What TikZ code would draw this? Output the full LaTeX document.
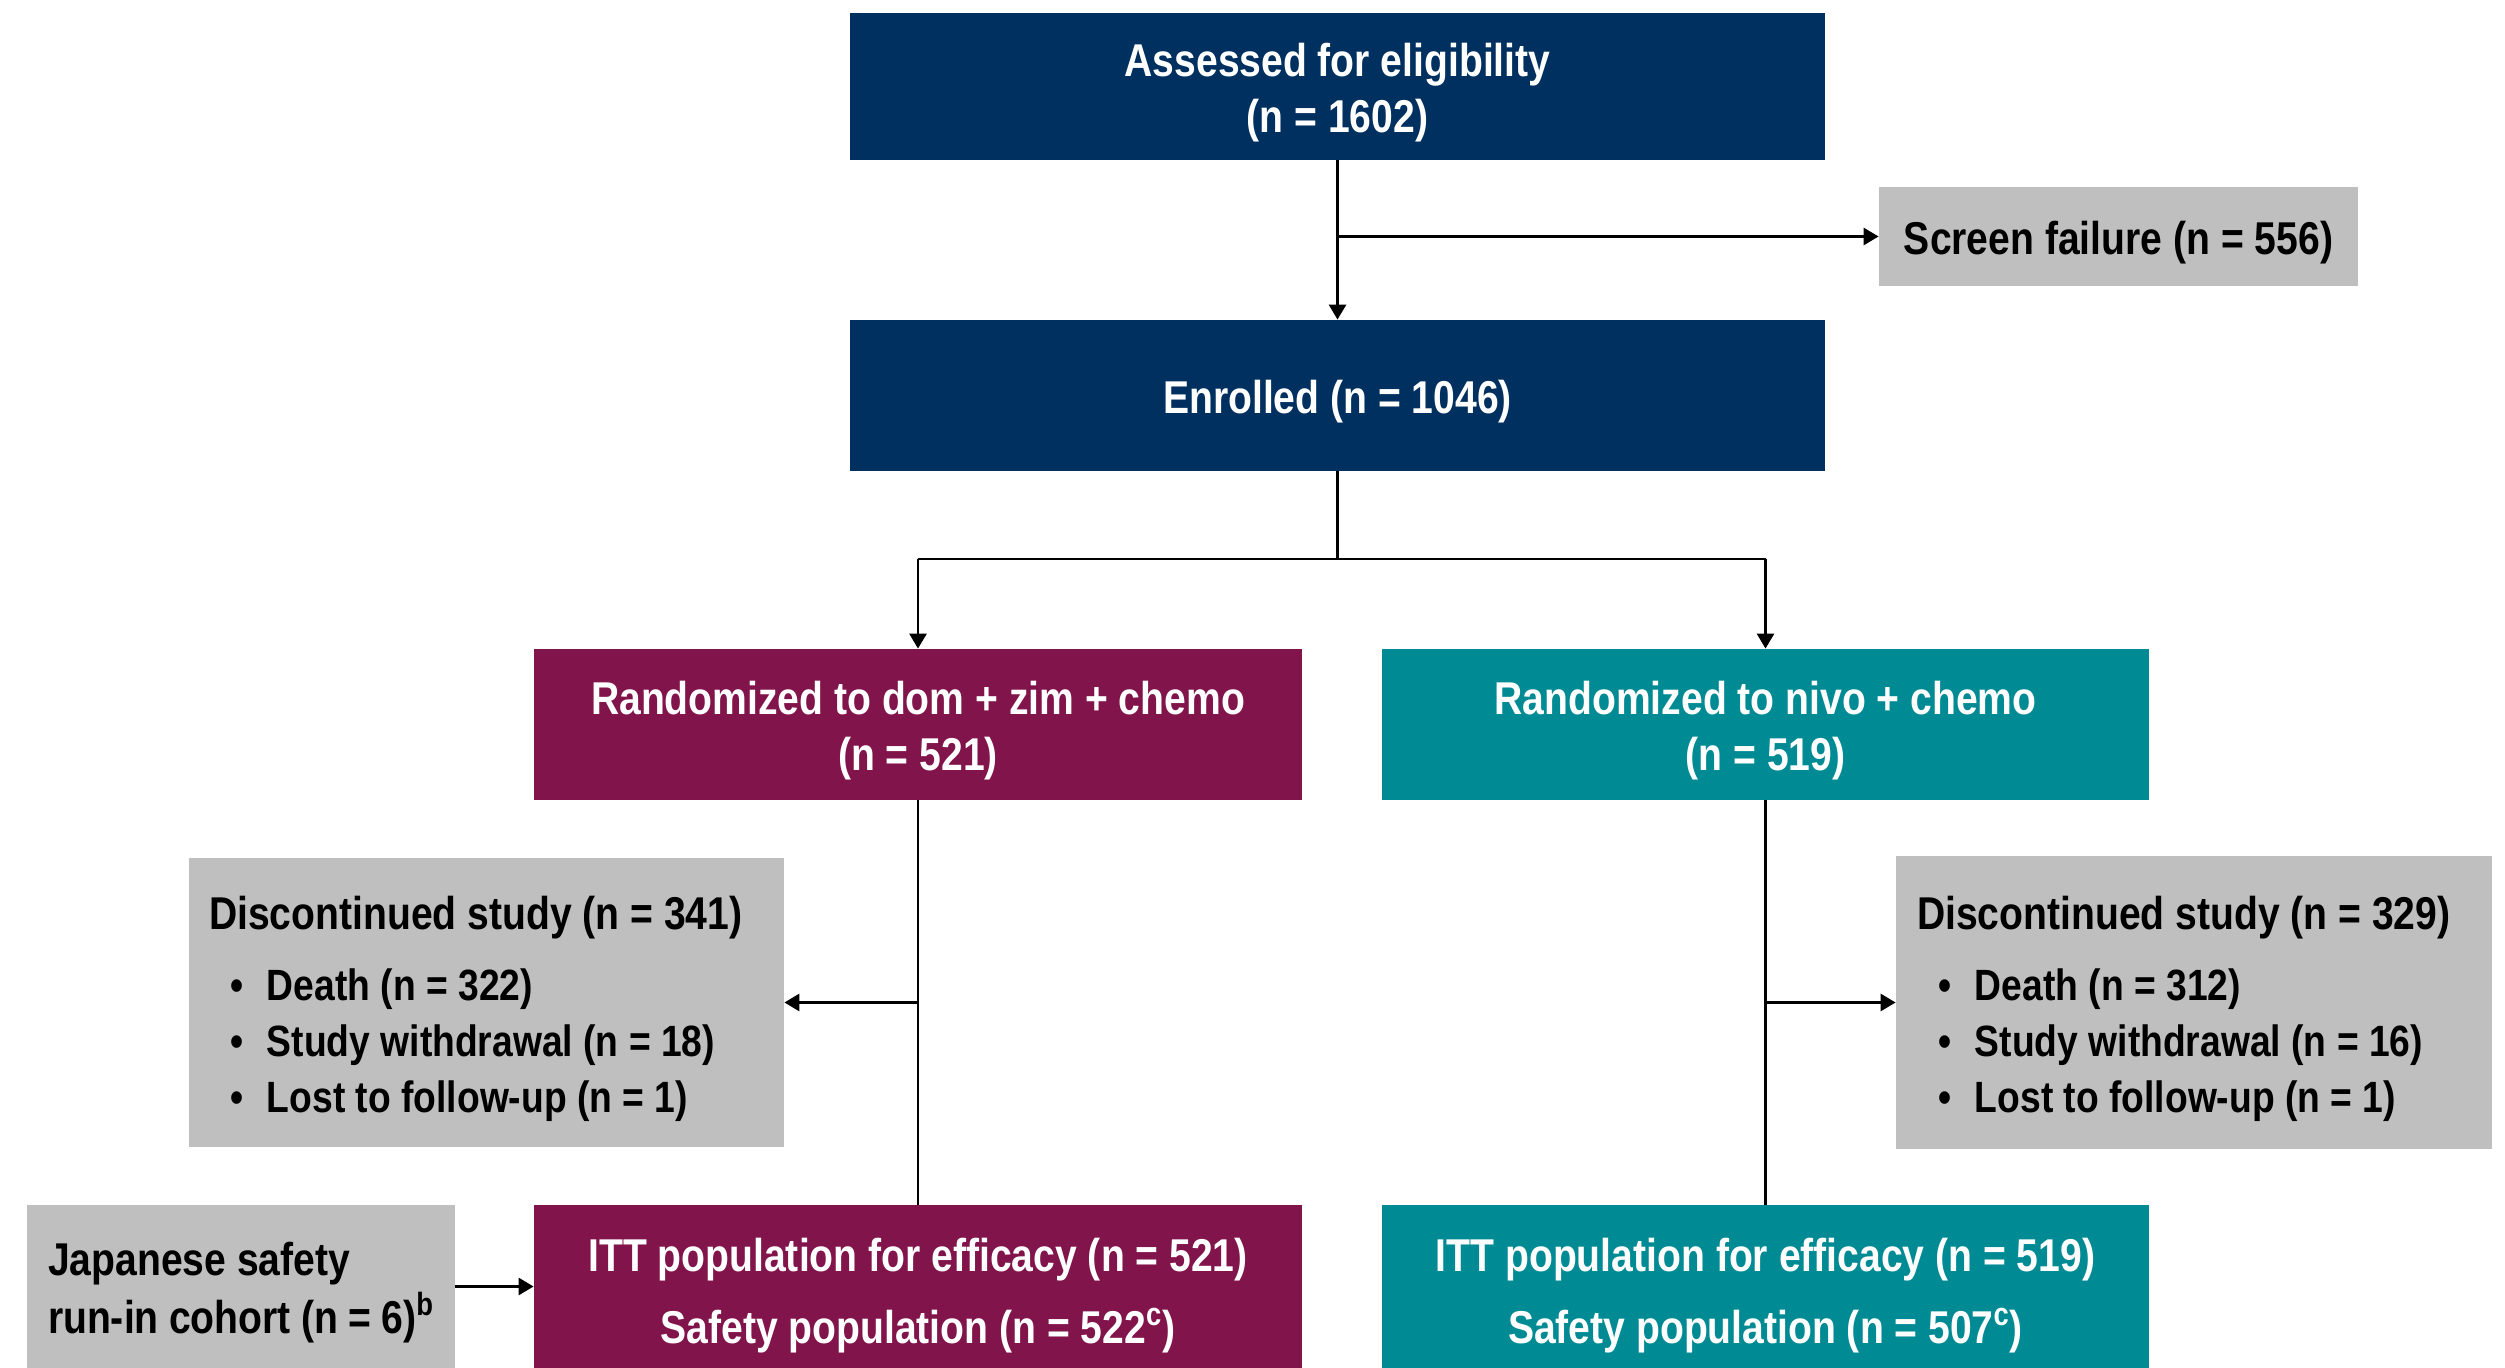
\documentclass[tikz,border=0pt]{standalone}
\usepackage{fontspec}
\setmainfont{Liberation Sans}[FakeStretch=0.85]
\usetikzlibrary{arrows.meta}
\definecolor{navy}{HTML}{00305F}
\definecolor{maroon}{HTML}{82144C}
\definecolor{teal}{HTML}{008B94}
\definecolor{grey}{HTML}{BFBFBF}
% lowered block of lines; reported size unchanged so nodes stay centred
\newcommand{\dn}[2][c]{\raisebox{-3.5pt}[\height][\depth]{\begin{tabular}{@{}#1@{}}#2\end{tabular}}}
\newcommand{\bul}{\fontsize{21.9}{28}\selectfont\hspace*{10.5pt}\makebox[18.5pt][l]{•}}
\begin{document}
\begin{tikzpicture}[x=0.5pt,y=-0.5pt,
  txt/.style={font=\fontsize{23}{28}\selectfont\bfseries, inner sep=0pt},
  navybox/.style={txt, fill=navy, text=white},
  maroonbox/.style={txt, fill=maroon, text=white},
  tealbox/.style={txt, fill=teal, text=white},
  greybox/.style={txt, fill=grey, text=black},
  conn/.style={line width=1.4pt, draw=black},
  arr/.style={conn, -{Triangle[length=7.5pt,width=8.5pt]}}
]
\useasboundingbox (0,0) rectangle (2505,1368);
\fill[white] (0,0) rectangle (2505,1368);

\node[navybox, minimum width=487.5pt, minimum height=73.5pt] (assess) at (1337.5,86.5)
  {\dn{Assessed for eligibility\\(n = 1602)}};
\node[greybox, minimum width=239.5pt, minimum height=49.5pt] (screen) at (2118.5,236.5)
  {\dn{Screen failure (n = 556)}};
\node[navybox, minimum width=487.5pt, minimum height=75.5pt] (enrolled) at (1337.5,395.5)
  {\dn{Enrolled (n = 1046)}};

\node[maroonbox, minimum width=384pt, minimum height=75.5pt] (randL) at (918,724.5)
  {\dn{Randomized to dom + zim + chemo\\(n = 521)}};
\node[tealbox, minimum width=383.5pt, minimum height=75.5pt] (randR) at (1765.5,724.5)
  {\dn{Randomized to nivo + chemo\\(n = 519)}};

\node[greybox, minimum width=297.5pt, minimum height=144.5pt] (discL) at (486.5,1002.5)
  {\dn[p{277.5pt}]{Discontinued study (n = 341)\\[7.5pt]
   \bul Death (n = 322)\\
   \bul Study withdrawal (n = 18)\\
   \bul Lost to follow-up (n = 1)}};
\node[greybox, minimum width=298pt, minimum height=146.5pt] (discR) at (2194,1002.5)
  {\dn[p{277pt}]{Discontinued study (n = 329)\\[7.5pt]
   \bul Death (n = 312)\\
   \bul Study withdrawal (n = 16)\\
   \bul Lost to follow-up (n = 1)}};

\node[greybox, minimum width=214pt, minimum height=81.5pt] (jap) at (241,1286.5)
  {\dn[p{193pt}]{Japanese safety\\run-in cohort (n = 6)\textsuperscript{b}}};
\node[maroonbox, font=\fontsize{23}{36}\selectfont\bfseries, minimum width=384pt, minimum height=81.5pt] (ittL) at (918,1286.5)
  {\dn{ITT population for efficacy (n = 521)\\Safety population (n = 522\textsuperscript{c})}};
\node[tealbox, font=\fontsize{23}{36}\selectfont\bfseries, minimum width=383.5pt, minimum height=81.5pt] (ittR) at (1765.5,1286.5)
  {\dn{ITT population for efficacy (n = 519)\\Safety population (n = 507\textsuperscript{c})}};

\coordinate (split) at (1337.5,559);
\draw[arr] (assess.south) -- (enrolled.north);
\draw[arr] (assess.south |- screen.west) -- (screen.west);
\draw[conn] (enrolled.south) -- (split);
\draw[conn] (randL.north |- split) -- (randR.north |- split);
\draw[arr] (randL.north |- split) -- (randL.north);
\draw[arr] (randR.north |- split) -- (randR.north);
\draw[conn] (randL.south) -- (ittL.north);
\draw[conn] (randR.south) -- (ittR.north);
\draw[arr] (randL.south |- discL.east) -- (discL.east);
\draw[arr] (randR.south |- discR.west) -- (discR.west);
\draw[arr] (jap.east) -- (jap.east -| ittL.west);
\end{tikzpicture}
\end{document}
